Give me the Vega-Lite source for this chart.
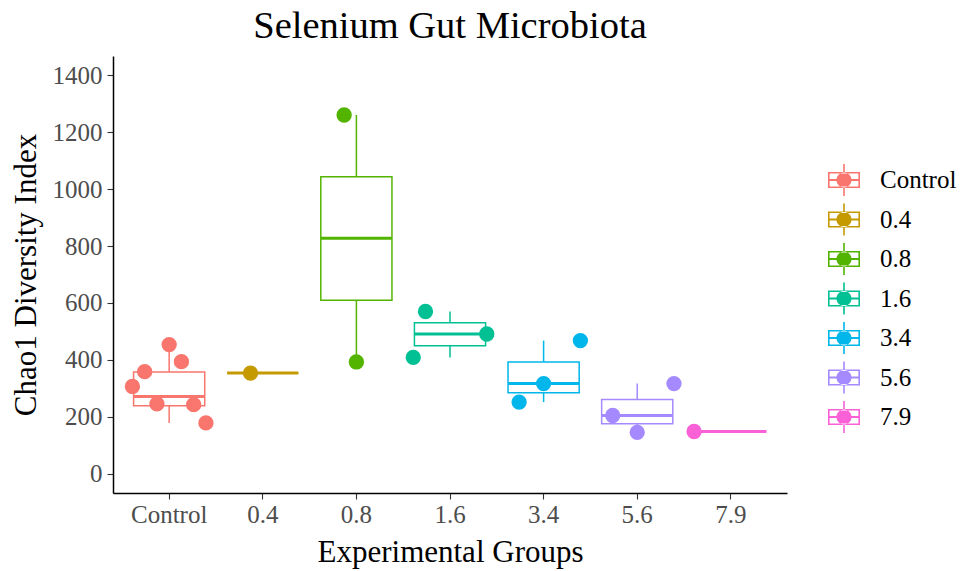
{
  "$schema": "https://vega.github.io/schema/vega-lite/v6.json",
  "width": 674,
  "height": 437,
  "autosize": {"type": "none"},
  "padding": {"left": 113, "top": 56, "right": 180, "bottom": 78},
  "background": "white",
  "title": {
    "text": "Selenium Gut Microbiota",
    "font": "Liberation Serif",
    "fontSize": 38.5,
    "fontWeight": "normal",
    "color": "black",
    "anchor": "middle",
    "offset": 10
  },
  "datasets": {
    "stats": [
      {"group": "Control", "lower": 179, "q1": 239, "median": 272, "q3": 358, "upper": 454},
      {"group": "0.4", "lower": 354, "q1": 354, "median": 354, "q3": 354, "upper": 354},
      {"group": "0.8", "lower": 393, "q1": 610, "median": 827, "q3": 1043, "upper": 1260},
      {"group": "1.6", "lower": 409, "q1": 450, "median": 491, "q3": 531, "upper": 570},
      {"group": "3.4", "lower": 252, "q1": 285, "median": 317, "q3": 393, "upper": 468},
      {"group": "5.6", "lower": 146, "q1": 176, "median": 205, "q3": 261, "upper": 317},
      {"group": "7.9", "lower": 149, "q1": 149, "median": 149, "q3": 149, "upper": 149}
    ],
    "pts": [
      {"group": "Control", "rep": "1", "chao1": 307},
      {"group": "Control", "rep": "2", "chao1": 359},
      {"group": "Control", "rep": "3", "chao1": 246},
      {"group": "Control", "rep": "4", "chao1": 454},
      {"group": "Control", "rep": "5", "chao1": 394},
      {"group": "Control", "rep": "6", "chao1": 243},
      {"group": "Control", "rep": "7", "chao1": 179},
      {"group": "0.4", "rep": "3", "chao1": 354},
      {"group": "0.8", "rep": "3", "chao1": 1260},
      {"group": "0.8", "rep": "4", "chao1": 393},
      {"group": "1.6", "rep": "1", "chao1": 409},
      {"group": "1.6", "rep": "2", "chao1": 570},
      {"group": "1.6", "rep": "7", "chao1": 491},
      {"group": "3.4", "rep": "2", "chao1": 252},
      {"group": "3.4", "rep": "4", "chao1": 317},
      {"group": "3.4", "rep": "7", "chao1": 468},
      {"group": "5.6", "rep": "2", "chao1": 205},
      {"group": "5.6", "rep": "4", "chao1": 146},
      {"group": "5.6", "rep": "7", "chao1": 317},
      {"group": "7.9", "rep": "1", "chao1": 149}
    ]
  },
  "encoding": {
    "color": {
      "field": "group",
      "type": "nominal",
      "scale": {
        "domain": ["Control", "0.4", "0.8", "1.6", "3.4", "5.6", "7.9"],
        "range": ["#F8766D", "#C49A00", "#53B400", "#00C094", "#00B6EB", "#A58AFF", "#FB61D7"]
      },
      "legend": {
        "title": null,
        "orient": "none",
        "legendX": 715,
        "legendY": 108,
        "symbolType": "M-1,-0.5H1V0.5H-1Z M-0.9,-0.41V0.41H0.9V-0.41Z M-0.9,-0.06V0.06H0.9V-0.06Z M0.47,0A0.47,0.47 0 1 0 -0.47,0A0.47,0.47 0 1 0 0.47,0Z M-0.05,-1H0.05V-0.5H-0.05Z M-0.05,0.5H0.05V1H-0.05Z",
        "symbolSize": 1024,
        "symbolStrokeWidth": 0,
        "symbolOpacity": 1,
        "rowPadding": 7.5,
        "labelOffset": 20,
        "labelFont": "Liberation Serif",
        "labelFontSize": 25,
        "labelColor": "black",
        "padding": 0,
        "offset": 0,
        "encode": {
          "symbols": {
            "update": {
              "fill": {"scale": "color", "field": "value"},
              "stroke": {"value": "transparent"},
              "strokeWidth": {"value": 0},
              "opacity": {"value": 1}
            }
          }
        }
      }
    }
  },
  "layer": [
    {
      "data": {"name": "stats"},
      "encoding": {
        "x": {
          "field": "group",
          "type": "nominal",
          "sort": ["Control", "0.4", "0.8", "1.6", "3.4", "5.6", "7.9"],
          "scale": {"domain": ["Control", "0.4", "0.8", "1.6", "3.4", "5.6", "7.9"], "paddingInner": 0, "paddingOuter": 0.1},
          "title": "Experimental Groups"
        }
      },
      "layer": [
        {
          "mark": {"type": "rule", "strokeWidth": 1.5},
          "encoding": {
            "y": {"field": "lower", "type": "quantitative", "title": "Chao1 Diversity Index",
                  "scale": {"domain": [-67, 1467], "nice": false, "zero": false},
                  "axis": {"values": [0, 200, 400, 600, 800, 1000, 1200, 1400], "format": "d"}},
            "y2": {"field": "q1"}
          }
        },
        {
          "mark": {"type": "rule", "strokeWidth": 1.5},
          "encoding": {
            "y": {"field": "q3", "type": "quantitative", "title": "Chao1 Diversity Index"},
            "y2": {"field": "upper"}
          }
        },
        {
          "mark": {"type": "bar", "filled": false, "strokeWidth": 1.5, "width": {"band": 0.76}},
          "encoding": {
            "y": {"field": "q1", "type": "quantitative", "title": "Chao1 Diversity Index"},
            "y2": {"field": "q3"}
          }
        },
        {
          "mark": {"type": "tick", "thickness": 3, "opacity": 1, "width": {"band": 0.76}},
          "encoding": {
            "y": {"field": "median", "type": "quantitative", "title": "Chao1 Diversity Index"}
          }
        }
      ]
    },
    {
      "data": {"name": "pts"},
      "mark": {"type": "circle", "size": 235, "opacity": 1},
      "encoding": {
        "x": {
          "field": "group",
          "type": "nominal",
          "sort": ["Control", "0.4", "0.8", "1.6", "3.4", "5.6", "7.9"],
          "scale": {"domain": ["Control", "0.4", "0.8", "1.6", "3.4", "5.6", "7.9"], "paddingInner": 0, "paddingOuter": 0.1},
          "axis": null
        },
        "y": {"field": "chao1", "type": "quantitative", "title": "Chao1 Diversity Index"},
        "xOffset": {"field": "rep", "type": "nominal",
                    "scale": {"domain": ["1", "2", "3", "4", "5", "6", "7"], "paddingInner": 0, "paddingOuter": 0.82}}
      }
    }
  ],
  "resolve": {"scale": {"x": "independent", "xOffset": "independent"}},
  "config": {
    "view": {"stroke": null},
    "axis": {
      "domainColor": "black",
      "domainWidth": 1.5,
      "tickColor": "#333333",
      "tickWidth": 1.1,
      "tickSize": 6,
      "labelFont": "Liberation Serif",
      "labelFontSize": 25,
      "labelColor": "#4D4D4D",
      "titleFont": "Liberation Serif",
      "titleFontSize": 31,
      "titleFontWeight": "normal",
      "titleColor": "black",
      "grid": false
    },
    "axisY": {"labelPadding": 5, "titlePadding": 10},
    "axisX": {"labelPadding": 3, "labelAngle": 0, "titlePadding": 10}
  }
}
